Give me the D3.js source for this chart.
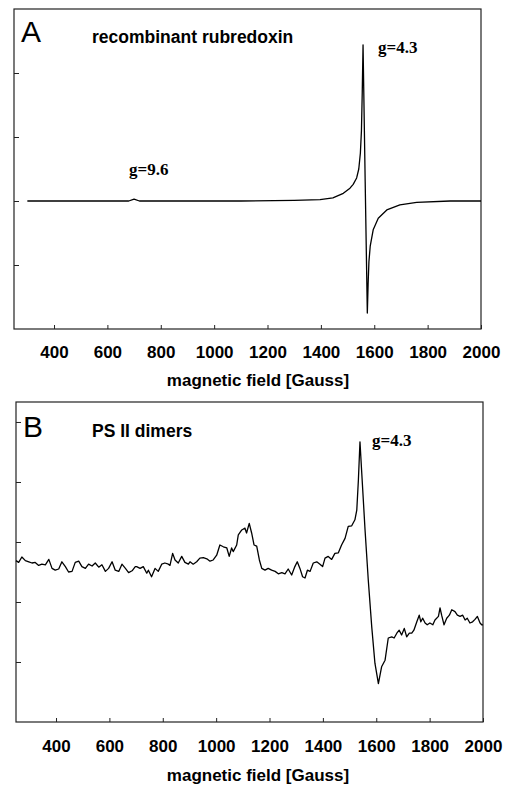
<!DOCTYPE html>
<html>
<head>
<meta charset="utf-8">
<script src="https://cdn.jsdelivr.net/npm/d3@7"></script>
<style>
  body { margin: 0; background: #fff; }
  svg { display: block; }
  .tick text { font-family: "Liberation Sans", Arial, sans-serif; font-weight: bold; font-size: 17px; fill: #000; }
</style>
</head>
<body>
<script>
// field values (Gauss) and signal (arbitrary units)
var fieldA = [300, 500, 680, 700, 720, 900, 1100, 1300, 1397, 1445, 1484, 1509, 1521, 1534, 1542, 1548, 1552, 1555, 1558, 1566, 1574, 1577, 1580, 1585, 1596, 1615, 1647, 1696, 1759, 1884, 2000];
var signalA = [0, 0, 0, 0.03, 0, 0, 0, 0.01, 0.02, 0.05, 0.12, 0.2, 0.26, 0.36, 0.5, 0.75, 1.1, 1.7, 2.44, 0.3, -1.75, -1.3, -0.95, -0.7, -0.45, -0.27, -0.14, -0.06, -0.02, 0, 0];

var fieldB = [250, 260, 272, 285, 298, 310, 322, 335, 347, 360, 373, 385, 397, 410, 422, 435, 447, 460, 472, 485,
    497, 510, 522, 535, 547, 560, 572, 585, 597, 610, 622, 635, 647, 660, 672, 685, 697, 702, 715, 727,
    740, 746, 758, 771, 783, 796, 808, 821, 827, 837, 846, 858, 871, 883, 896, 902, 914, 927, 939, 952,
    965, 977, 989, 1002, 1014, 1027, 1040, 1049, 1058, 1064, 1077, 1083, 1096, 1108, 1114, 1124, 1133, 1142, 1152, 1162,
    1171, 1183, 1195, 1208, 1221, 1233, 1246, 1258, 1270, 1283, 1295, 1304, 1314, 1324, 1333, 1342, 1352, 1364, 1377, 1389,
    1399, 1408, 1420, 1433, 1445, 1458, 1470, 1483, 1495, 1508, 1520, 1527, 1533, 1539, 1545, 1558, 1570, 1583, 1595, 1608,
    1620, 1633, 1645, 1658, 1667, 1677, 1686, 1695, 1705, 1714, 1724, 1733, 1741, 1752, 1761, 1767, 1774, 1783, 1791, 1801,
    1812, 1820, 1833, 1839, 1845, 1854, 1864, 1874, 1883, 1895, 1904, 1914, 1924, 1933, 1941, 1951, 1961, 1970, 1979, 1989,
    1995, 2000];
var signalB = [1.69, 1.66, 1.75, 1.69, 1.67, 1.65, 1.66, 1.61, 1.63, 1.62, 1.71, 1.56, 1.53, 1.55, 1.67, 1.59, 1.50, 1.51, 1.66, 1.68,
    1.59, 1.56, 1.63, 1.60, 1.65, 1.58, 1.62, 1.51, 1.56, 1.67, 1.53, 1.51, 1.63, 1.56, 1.49, 1.52, 1.59, 1.59, 1.56, 1.59,
    1.48, 1.53, 1.42, 1.56, 1.51, 1.63, 1.65, 1.63, 1.61, 1.81, 1.70, 1.65, 1.76, 1.66, 1.63, 1.67, 1.63, 1.67, 1.73, 1.74,
    1.72, 1.68, 1.70, 1.78, 1.95, 1.92, 1.90, 1.76, 1.90, 1.84, 1.95, 2.12, 2.20, 2.23, 2.15, 2.31, 2.15, 1.95, 1.93, 1.70,
    1.56, 1.53, 1.56, 1.53, 1.51, 1.47, 1.49, 1.47, 1.55, 1.45, 1.59, 1.67, 1.56, 1.42, 1.40, 1.53, 1.51, 1.65, 1.67, 1.63,
    1.59, 1.73, 1.76, 1.71, 1.81, 1.82, 1.95, 2.06, 2.26, 2.27, 2.37, 2.53, 3.03, 3.67, 3.20, 2.20, 1.37, 0.59, -0.02, -0.36,
    -0.08, 0.03, 0.40, 0.42, 0.40, 0.48, 0.53, 0.45, 0.56, 0.42, 0.48, 0.48, 0.53, 0.67, 0.78, 0.67, 0.73, 0.65, 0.62, 0.65,
    0.62, 0.70, 0.76, 0.90, 0.78, 0.62, 0.73, 0.78, 0.87, 0.84, 0.78, 0.76, 0.78, 0.70, 0.73, 0.65, 0.67, 0.71, 0.76, 0.65,
    0.62, 0.62];

var xTicks = [400, 600, 800, 1000, 1200, 1400, 1600, 1800, 2000];
var yTicksA = [-1, 0, 1, 2];
var yTicksB = [0, 1, 2, 3, 4];

(function() {

    var width = 508,
        height = 788;

    var svg = d3.select("body")
        .append("svg")
        .attr("width", width)
        .attr("height", height);

    setPanel({
        left: 14, right: 481, top: 9, bottom: 329,
        yDomain: [-2, 3], yTicks: yTicksA,
        field: fieldA, signal: signalA,
        letter: "A", title: "recombinant rubredoxin",
        titleY: 43, letterY: 42,
        marks: [{ text: "g=4.3", x: 378, y: 53 }, { text: "g=9.6", x: 129, y: 175 }],
        labelPad: 17, axisTitleY: 386
    });

    setPanel({
        left: 16, right: 483, top: 402, bottom: 722,
        yDomain: [-1, 4.333], yTicks: yTicksB,
        field: fieldB, signal: signalB,
        letter: "B", title: "PS II dimers",
        titleY: 437, letterY: 437,
        marks: [{ text: "g=4.3", x: 372, y: 446 }],
        labelPad: 18, axisTitleY: 781
    });

    function setPanel(p) {
        var x = d3.scaleLinear()
            .domain([250, 2000])
            .range([p.left, p.right]);

        var y = d3.scaleLinear()
            .domain(p.yDomain)
            .range([p.bottom, p.top]);

        var g = svg.append("g");

        // frame
        g.append("rect")
            .attr("x", p.left)
            .attr("y", p.top)
            .attr("width", p.right - p.left)
            .attr("height", p.bottom - p.top)
            .attr("fill", "none")
            .attr("stroke", "#222")
            .attr("stroke-width", 1.2);

        var xAxis = d3.axisBottom(x)
            .tickValues(xTicks)
            .tickFormat(d3.format("d"))
            .tickSizeInner(-4)
            .tickSizeOuter(0)
            .tickPadding(p.labelPad);

        g.append("g")
            .attr("transform", "translate(0," + p.bottom + ")")
            .call(xAxis)
            .call(function(s) { s.select(".domain").remove(); })
            .selectAll("line").attr("stroke", "#222");

        var yAxis = d3.axisLeft(y)
            .tickValues(p.yTicks)
            .tickSizeInner(-5)
            .tickSizeOuter(0)
            .tickFormat("");

        g.append("g")
            .attr("transform", "translate(" + p.left + ",0)")
            .call(yAxis)
            .call(function(s) { s.select(".domain").remove(); })
            .selectAll("line").attr("stroke", "#222");

        var pts = p.field.map(function(f, i) { return [f, p.signal[i]]; });

        var line = d3.line()
            .x(function(d) { return x(d[0]); })
            .y(function(d) { return y(d[1]); });

        g.append("path")
            .datum(pts)
            .attr("d", line)
            .attr("fill", "none")
            .attr("stroke", "#000")
            .attr("stroke-width", 1.3)
            .attr("stroke-linejoin", "round");

        g.append("text")
            .attr("x", p.left + 7)
            .attr("y", p.letterY)
            .attr("font-family", "Liberation Sans, Arial, sans-serif")
            .attr("font-size", 30)
            .text(p.letter);

        g.append("text")
            .attr("x", 92)
            .attr("y", p.titleY)
            .attr("font-family", "Liberation Sans, Arial, sans-serif")
            .attr("font-weight", "bold")
            .attr("font-size", 17.5)
            .text(p.title);

        p.marks.forEach(function(m) {
            g.append("text")
                .attr("x", m.x)
                .attr("y", m.y)
                .attr("font-family", "Liberation Serif, Times New Roman, serif")
                .attr("font-weight", "bold")
                .attr("font-size", 17)
                .text(m.text);
        });

        g.append("text")
            .attr("x", 258)
            .attr("y", p.axisTitleY)
            .attr("text-anchor", "middle")
            .attr("font-family", "Liberation Sans, Arial, sans-serif")
            .attr("font-weight", "bold")
            .attr("font-size", 17)
            .text("magnetic field [Gauss]");
    }

})();
</script>
</body>
</html>
